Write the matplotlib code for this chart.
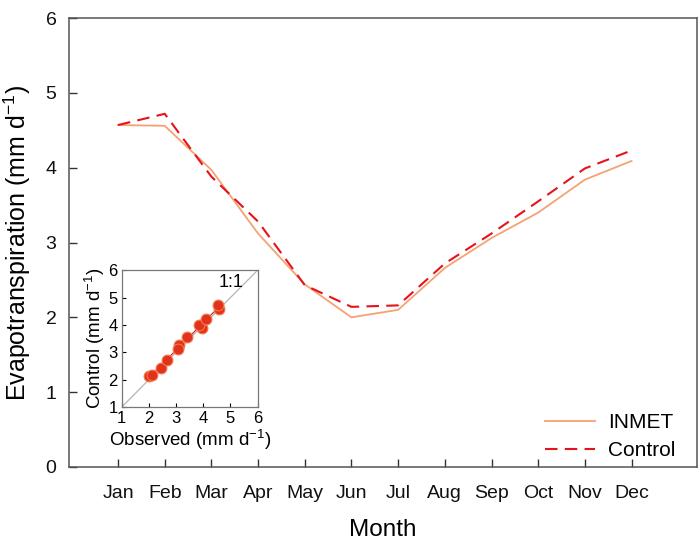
import matplotlib
matplotlib.use("Agg")
import matplotlib.pyplot as plt
import numpy as np

# ── DATA ────────────────────────────────────────────────────
months = ["Jan", "Feb", "Mar", "Apr", "May", "Jun",
          "Jul", "Aug", "Sep", "Oct", "Nov", "Dec"]
inmet = [4.57, 4.56, 3.97, 3.12, 2.44, 2.00, 2.10, 2.66, 3.06, 3.40, 3.84, 4.09]
control = [4.57, 4.72, 3.88, 3.28, 2.43, 2.14, 2.16, 2.72, 3.12, 3.55, 3.99, 4.23]

plt.rcParams["font.family"] = ["Liberation Sans", "DejaVu Sans"]
plt.rcParams["mathtext.default"] = "regular"

fig = plt.figure(figsize=(7.0, 5.47), dpi=100)
ax = fig.add_axes([0.0986, 0.1463, 0.897, 0.8207])

x = np.arange(1, len(months) + 1)
ax.plot(x, inmet, color="#f5a272", lw=1.3, label="INMET")
ax.plot(x, control, color="#e3141c", lw=1.5, ls=(0, (6, 3.5)), label="Control")

ax.set_xlim(-0.05, 13.4)
ax.set_ylim(0, 6)
ax.set_xticks(x)
ax.set_xticklabels(months)
ax.set_yticks(range(0, 7))
ax.tick_params(direction="in", length=6, width=1, labelsize=14, colors="#333333")
ax.tick_params(axis="x", pad=13, labelcolor="#111111")
ax.tick_params(axis="y", pad=9, labelcolor="#111111")
for s in ax.spines.values():
    s.set_color("#555555")
    s.set_linewidth(1.1)

ax.set_xlabel("Month", fontsize=17.5, labelpad=12)
ax.set_ylabel("Evapotranspiration (mm d$^{-1}$)", fontsize=18, labelpad=9)

ax.legend(loc="lower right", bbox_to_anchor=(0.995, -0.027), frameon=False,
          fontsize=15, handlelength=2.4, handletextpad=0.6, labelspacing=0.45)

# ── INSET: observed vs control ──────────────────────────────
ins = fig.add_axes([0.174, 0.256, 0.194, 0.250])
ins.plot([1, 6], [1, 6], color="#b5b5b5", lw=0.9, zorder=1)
coef = np.polyfit(inmet, control, 1)
xx = np.array([min(inmet), max(inmet)])
ins.plot(xx, np.polyval(coef, xx), color="#e3141c", lw=0.8, zorder=2)
ins.scatter(inmet, control, s=60, color="#e2311d", edgecolor="#f07a4a",
            linewidth=0.8, zorder=3)
ins.text(4.55, 5.55, "1:1", fontsize=13, ha="left", va="center")
ins.set_xlim(1, 6)
ins.set_ylim(1, 6)
ins.set_xticks(range(1, 7))
ins.set_yticks(range(1, 7))
ins.tick_params(direction="in", length=3, labelsize=12, pad=3)
for s in ins.spines.values():
    s.set_color("#777777")
    s.set_linewidth(0.9)
ins.set_xlabel("Observed (mm d$^{-1}$)", fontsize=13.5, labelpad=1)
ins.set_ylabel("Control (mm d$^{-1}$)", fontsize=13.5, labelpad=1)

fig.savefig("out.png", dpi=100)
